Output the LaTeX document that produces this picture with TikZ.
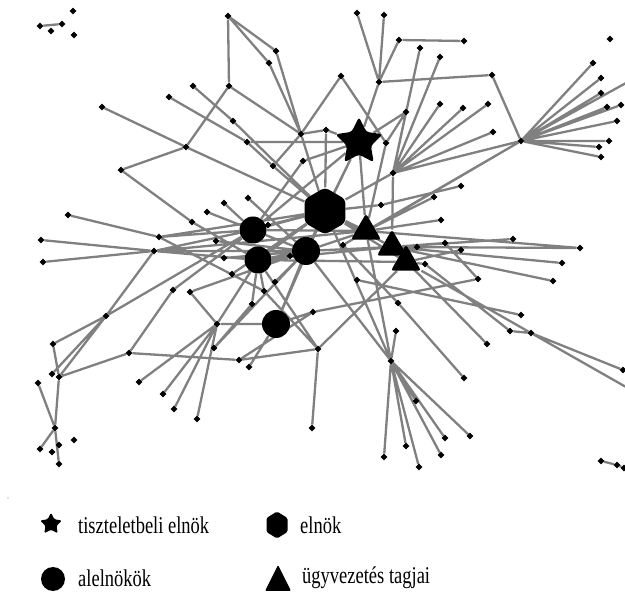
\documentclass[tikz,border=0pt]{standalone}
\usepackage{fontspec}
\setmainfont{Liberation Serif}
\usetikzlibrary{shapes.geometric,backgrounds}
\definecolor{edgegray}{RGB}{128,128,128}
\tikzset{
 dot/.style={diamond, fill=black, inner sep=0pt, minimum width=7pt, minimum height=7pt},
 conn/.style={draw=edgegray, line width=2.3pt},
 bigcirc/.style={circle, fill=black, inner sep=0pt, minimum size=27pt},
 hexa/.style={regular polygon, regular polygon sides=6, shape border rotate=30, fill=black, inner sep=0pt, minimum size=47pt, rounded corners=4pt},
 tri/.style={regular polygon, regular polygon sides=3, fill=black, inner sep=0pt, minimum size=35pt, rounded corners=3pt},
 bigstar/.style={star, star points=5, star point ratio=2, fill=black, inner sep=0pt, minimum size=50pt, rounded corners=3pt},
 legstar/.style={star, star points=5, star point ratio=2, fill=black, inner sep=0pt, minimum size=23pt, rounded corners=1.5pt},
 legcirc/.style={circle, fill=black, inner sep=0pt, minimum size=24pt},
 legtext/.style={anchor=west, inner sep=0pt, font=\fontsize{18.5}{20}\selectfont},
}
\newcommand{\tallt}[1]{\scalebox{1}[1.3]{#1}}
\begin{document}
\begin{tikzpicture}[x=1pt,y=-1pt]
\useasboundingbox (0,0) rectangle (625,593);
% top-left
\node[dot] (ta) at (40,26) {};
\node[dot] (tb) at (62,24) {};
\node[dot] (tc) at (51,31) {};
\node[dot] (td) at (73,11) {};
\node[dot] (te) at (74,35) {};
% upper-left
\node[dot] (ua) at (102,107) {};
\node[dot] (ub) at (169,97) {};
\node[dot] (uc) at (193,86) {};
\node[dot] (ud) at (186,147) {};
\node[dot] (ue) at (121,170) {};
\node[dot] (uf) at (233,121) {};
\node[dot] (ug) at (247,142) {};
\node[dot] (uh) at (273,166) {};
\node[dot] (ui) at (303,161) {};
\node[dot] (uj) at (301,134) {};
\node[dot] (uk) at (229,86) {};
\node[dot] (ul) at (228,16) {};
\node[dot] (um) at (276,51) {};
\node[dot] (un) at (269,63) {};
\node[dot] (uo) at (341,76) {};
\node[dot] (up) at (326,130) {};
% top-right
\node[dot] (ra) at (357,13) {};
\node[dot] (rb) at (384,15) {};
\node[dot] (rc) at (399,40) {};
\node[dot] (rd) at (379,82) {};
\node[dot] (re) at (464,41) {};
\node[dot] (rf) at (420,48) {};
\node[dot] (rg) at (440,57) {};
\node[dot] (rh) at (492,75) {};
\node[dot] (ri) at (406,112) {};
\node[dot] (rj) at (386,143) {};
\node[dot] (rk) at (440,104) {};
\node[dot] (rl) at (463,108) {};
\node[dot] (rm) at (488,104) {};
\node[dot] (rn) at (493,132) {};
\node[dot] (hub) at (521,141) {};
\node[dot] (ro) at (393,173) {};
% hub right
\node[dot] (ha) at (593,63) {};
\node[dot] (hb) at (601,78) {};
\node[dot] (hc) at (601,93) {};
\node[dot] (hd) at (607,107) {};
\node[dot] (he) at (621,105) {};
\node[dot] (hf) at (617,121) {};
\node[dot] (hg) at (609,141) {};
\node[dot] (hh) at (599,147) {};
\node[dot] (hi) at (601,157) {};
\node[dot] (hj) at (610,39) {};
\coordinate (hx) at (626,83);
% mid-right
\node[dot] (ma) at (461,186) {};
\node[dot] (mb) at (434,197) {};
\node[dot] (mc) at (441,220) {};
\node[dot] (md) at (381,205) {};
\node[dot] (me) at (513,239) {};
\node[dot] (mf) at (580,248) {};
\node[dot] (mg) at (445,243) {};
\node[dot] (mh) at (461,250) {};
\node[dot] (mi) at (417,247) {};
\node[dot] (mj) at (562,263) {};
\node[dot] (mk) at (425,264) {};
\node[dot] (ml) at (553,281) {};
\node[dot] (mm) at (478,279) {};
\node[dot] (mn) at (343,245) {};
\node[dot] (mo) at (357,280) {};
\node[dot] (mp) at (398,303) {};
% center-left
\node[dot] (ca) at (248,198) {};
\node[dot] (cb) at (224,203) {};
\node[dot] (cc) at (207,212) {};
\node[dot] (cd) at (192,222) {};
\node[dot] (ce) at (68,215) {};
\node[dot] (cf) at (41,240) {};
\node[dot] (cg) at (43,262) {};
\node[dot] (ch) at (159,237) {};
\node[dot] (ci) at (154,251) {};
\node[dot] (cj) at (216,241) {};
\node[dot] (ck) at (224,258) {};
\node[dot] (cl) at (232,274) {};
\node[dot] (cm) at (268,225) {};
\node[dot] (cn) at (290,256) {};
\node[dot] (co) at (275,282) {};
\node[dot] (cp) at (264,291) {};
\node[dot] (cq) at (252,304) {};
\node[dot] (cr) at (173,290) {};
\node[dot] (cs) at (190,292) {};
% lower-left
\node[dot] (la) at (106,316) {};
\node[dot] (lb) at (53,344) {};
\node[dot] (lc) at (129,353) {};
\node[dot] (ld) at (52,374) {};
\node[dot] (le) at (59,377) {};
\node[dot] (lf) at (38,383) {};
\node[dot] (lg) at (139,382) {};
\node[dot] (lh) at (163,394) {};
\node[dot] (li) at (174,409) {};
\node[dot] (lj) at (197,419) {};
\node[dot] (lk) at (55,428) {};
\node[dot] (ll) at (74,440) {};
\node[dot] (lm) at (59,445) {};
\node[dot] (ln) at (40,449) {};
\node[dot] (lo) at (52,452) {};
\node[dot] (lp) at (59,464) {};
% lower-mid
\node[dot] (qa) at (217,324) {};
\node[dot] (qc) at (313,312) {};
\node[dot] (qd) at (214,348) {};
\node[dot] (qe) at (239,360) {};
\node[dot] (qf) at (249,367) {};
\node[dot] (qg) at (318,349) {};
\node[dot] (qh) at (312,428) {};
\node[dot] (qi) at (391,361) {};
\node[dot] (qj) at (396,331) {};
\node[dot] (qk) at (384,457) {};
\node[dot] (ql) at (406,446) {};
% lower-right
\node[dot] (sa) at (521,315) {};
\node[dot] (sb) at (510,331) {};
\node[dot] (sc) at (531,333) {};
\node[dot] (sd) at (487,344) {};
\node[dot] (se) at (464,378) {};
\node[dot] (sf) at (623,370) {};
\coordinate (sx) at (626,387);
\node[dot] (sg) at (416,401) {};
\node[dot] (sh) at (470,436) {};
\node[dot] (si) at (445,438) {};
\node[dot] (sj) at (441,455) {};
\node[dot] (sk) at (419,467) {};
\node[dot] (sl) at (601,461) {};
\node[dot] (sm) at (617,465) {};
\node[dot] (sn) at (624,468) {};
% big markers
\node[bigstar] (STAR) at (359,142) {};
\node[hexa] (HEX) at (325,211) {};
\node[bigcirc] (A) at (253,230) {};
\node[bigcirc] (B) at (258,260) {};
\node[bigcirc, minimum size=28pt] (C) at (306,251) {};
\node[bigcirc, minimum size=28pt] (D) at (276,324) {};
\node[tri] (T1) at (366,231) {};
\node[tri] (T2) at (392,247) {};
\node[tri] (T3) at (406,262) {};
\begin{pgfonlayer}{background}
\path[conn]
 (ta) -- (tb)
 (ua) -- (ud) (ud) -- (HEX)
 (ub) -- (ug) (ug) -- (uh) (uh) -- (HEX)
 (uc) -- (uf) (uf) -- (HEX)
 (ud) -- (ue) (ue) -- (cd) (cd) -- (B)
 (ud) -- (uk) (uk) -- (ul) (ul) -- (um) (ul) -- (un) (um) -- (uj) (un) -- (uj) (uk) -- (uj)
 (uj) -- (uo) (uo) -- (rj) (uj) -- (up) (up) -- (STAR) (up) -- (HEX) (uj) -- (uh) (uj) -- (HEX)
 (ra) -- (rd) (rb) -- (rd) (rc) -- (rd) (rc) -- (re) (rd) -- (rh) (rd) -- (STAR) (rh) -- (hub)
 (hub) -- (ha) (hub) -- (hb) (hub) -- (hc) (hub) -- (hd) (hub) -- (he) (hub) -- (hf)
 (hub) -- (hg) (hub) -- (hh) (hub) -- (hi) (hub) -- (hx)
 (hub) -- (ro) (hub) -- (mn) (hub) -- (T1)
 (ro) -- (rf) (ro) -- (rg) (ro) -- (rk) (ro) -- (rl) (ro) -- (rm) (ro) -- (rn) (ro) -- (ri)
 (ro) -- (T2) (ro) -- (HEX)
 (ri) -- (rj) (ri) -- (STAR) (rj) -- (T1)
 (STAR) -- (HEX) (STAR) -- (T1) (STAR) -- (C) (STAR) -- (A) (STAR) -- (ui) (STAR) -- (ug)
 (ma) -- (md) (md) -- (HEX) (mb) -- (T1) (mc) -- (T1) (me) -- (T2) (mf) -- (T2) (mj) -- (T2)
 (ml) -- (T2) (mm) -- (mg) (mg) -- (T2) (mh) -- (T3) (mi) -- (T2) (mk) -- (T3) (mf) -- (T1)
 (A) -- (HEX) (B) -- (HEX) (C) -- (HEX) (A) -- (C) (B) -- (C) (HEX) -- (T1) (C) -- (T1)
 (C) -- (T2) (HEX) -- (T2) (HEX) -- (T3) (A) -- (T1) (B) -- (T2) (B) -- (T3)
 (ca) -- (C) (cb) -- (A) (cc) -- (A) (ch) -- (A) (ci) -- (A) (ci) -- (B) (cf) -- (ci) (cg) -- (ci)
 (ce) -- (ch) (ci) -- (C) (ch) -- (HEX) (cj) -- (C) (ck) -- (C) (cm) -- (A) (cm) -- (HEX)
 (cn) -- (B) (cn) -- (C) (co) -- (C) (cp) -- (B) (cq) -- (B) (cr) -- (A) (cs) -- (C)
 (cr) -- (lc) (cs) -- (qa) (ci) -- (T1) (ch) -- (cp) (cp) -- (qg) (cl) -- (HEX) (ui) -- (A)
 (la) -- (lb) (la) -- (ld) (la) -- (le) (la) -- (A) (la) -- (ci) (lb) -- (le) (le) -- (lc)
 (lc) -- (qe) (lf) -- (lk) (le) -- (lk) (lk) -- (lp) (lk) -- (ln)
 (lg) -- (qa) (lh) -- (qa) (li) -- (qa) (lj) -- (qa) (qa) -- (D) (qa) -- (B)
 (qd) -- (cq) (qd) -- (C) (qe) -- (qg) (qe) -- (qc) (qf) -- (D) (qg) -- (qh) (qg) -- (B) (qg) -- (T3)
 (qc) -- (mm) (D) -- (C) (D) -- (qc) (D) -- (HEX)
 (qi) -- (qk) (qi) -- (sg) (qi) -- (sk) (qi) -- (sj) (qi) -- (si) (qi) -- (sh) (qi) -- (qj)
 (qi) -- (T1) (qi) -- (HEX) (qi) -- (C) (ql) -- (qi)
 (se) -- (mp) (mp) -- (mn) (sd) -- (T2) (sa) -- (mo) (sb) -- (mk) (sc) -- (T3) (sc) -- (sf)
 (sc) -- (sx) (sb) -- (sc)
 (sl) -- (sm) (sm) -- (sn);
\end{pgfonlayer}
% legend
\fill[black!50] (8,498) circle (0.7);
\node[legstar] (kstar) at (51,524) {};
\node[legtext] (kt1) at (78,525) {\tallt{tiszteletbeli elnök}};
\fill[black, rounded corners=1.5pt] (277,511.5) -- (287.5,518) -- (287.5,532) -- (277,538.5) -- (266.5,532) -- (266.5,518) -- cycle;
\node[legtext] (kt2) at (300,525) {\tallt{elnök}};
\node[legcirc] (kcirc) at (53,579) {};
\node[legtext] (kt3) at (78,578) {\tallt{alelnökök}};
\fill[black, rounded corners=1.2pt] (278,565) -- (291,591) -- (265,591) -- cycle;
\node[legtext] (kt4) at (302,578) {\tallt{ügyvezetés tagjai}};
\end{tikzpicture}
\end{document}
